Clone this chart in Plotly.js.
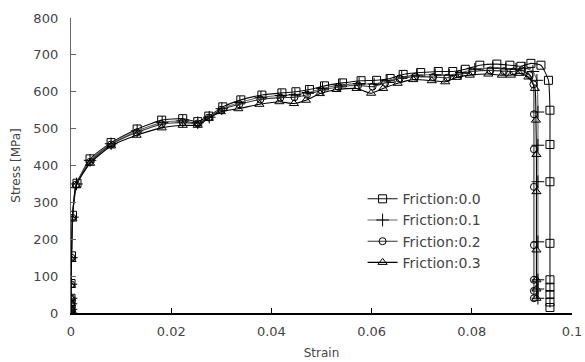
<!DOCTYPE html>
<html>
<head>
<meta charset="utf-8">
<script src="https://cdn.plot.ly/plotly-3.0.1.min.js"></script>
<style>html,body{margin:0;padding:0;background:#fff;}#chart{width:585px;height:362px;}</style>
</head>
<body>
<div id="chart"></div>
<script>
// Friction 0.0 (squares)
var strain0 = [0, 0, 0, 0, 0, 0.0001, 0.0003, 0.0012, 0.0038, 0.0080, 0.0132, 0.0181, 0.0223, 0.0253, 0.0275, 0.0303, 0.0339, 0.0381, 0.0421, 0.0449, 0.0476, 0.0506, 0.0542, 0.0579, 0.0610, 0.0637, 0.0663, 0.0698, 0.0733, 0.0762, 0.0787, 0.0816, 0.0850, 0.0876, 0.0898, 0.0918, 0.0938, 0.0953, 0.0956, 0.0956, 0.0956, 0.0956, 0.0956, 0.0956, 0.0956, 0.0956, 0.0956];
var stress0 = [0, 10, 25, 40, 80, 155, 265, 352, 418, 462, 499, 523, 527, 519, 534, 559, 578, 591, 597, 600, 606, 616, 624, 630, 631, 636, 647, 652, 655, 655, 661, 672, 675, 672, 669, 677, 672, 631, 550, 457, 356, 189, 90, 70, 50, 30, 15];
// Friction 0.1 (crosses)
var strain1 = [0, 0, 0, 0, 0, 0.0001, 0.0003, 0.0011, 0.0038, 0.0080, 0.0132, 0.0182, 0.0223, 0.0253, 0.0276, 0.0301, 0.0337, 0.0379, 0.0419, 0.0447, 0.0473, 0.0502, 0.0537, 0.0575, 0.0605, 0.0631, 0.0660, 0.0691, 0.0727, 0.0755, 0.0779, 0.0806, 0.0842, 0.0868, 0.0888, 0.0906, 0.0922, 0.0930, 0.0932, 0.0932, 0.0932, 0.0932, 0.0932, 0.0932, 0.0932];
var stress1 = [0, 10, 25, 40, 78, 150, 260, 350, 414, 459, 494, 517, 521, 516, 531, 554, 571, 585, 590, 592, 598, 609, 618, 622, 621, 630, 640, 645, 646, 645, 652, 661, 664, 662, 661, 664, 655, 631, 545, 455, 356, 193, 90, 65, 40];
// Friction 0.2 (circles)
var strain2 = [0, 0, 0, 0, 0, 0.0001, 0.0003, 0.0010, 0.0038, 0.0080, 0.0131, 0.0181, 0.0223, 0.0253, 0.0275, 0.0300, 0.0336, 0.0378, 0.0418, 0.0446, 0.0471, 0.0500, 0.0534, 0.0573, 0.0602, 0.0627, 0.0656, 0.0687, 0.0723, 0.0751, 0.0775, 0.0801, 0.0837, 0.0864, 0.0883, 0.0900, 0.0915, 0.0923, 0.0924, 0.0924, 0.0924, 0.0924, 0.0924, 0.0924, 0.0924];
var stress2 = [0, 10, 25, 40, 78, 150, 258, 348, 410, 457, 490, 512, 517, 514, 530, 551, 566, 579, 584, 585, 592, 604, 613, 617, 614, 624, 636, 641, 640, 638, 647, 655, 658, 656, 655, 658, 645, 620, 539, 444, 342, 184, 90, 60, 40];
// Friction 0.3 (triangles)
var strain3 = [0, 0, 0, 0, 0, 0.0001, 0.0003, 0.0010, 0.0038, 0.0080, 0.0131, 0.0181, 0.0223, 0.0253, 0.0275, 0.0299, 0.0334, 0.0376, 0.0416, 0.0445, 0.0469, 0.0497, 0.0530, 0.0570, 0.0599, 0.0623, 0.0652, 0.0683, 0.0720, 0.0747, 0.0770, 0.0796, 0.0833, 0.0860, 0.0878, 0.0895, 0.0913, 0.0926, 0.0928, 0.0929, 0.0929, 0.0929, 0.0929, 0.0929, 0.0929];
var stress3 = [0, 10, 25, 40, 75, 145, 255, 345, 406, 453, 482, 502, 509, 509, 528, 546, 554, 566, 573, 568, 577, 595, 606, 609, 596, 609, 623, 633, 630, 627, 639, 645, 648, 645, 645, 650, 640, 609, 523, 430, 329, 171, 90, 65, 40];

var seriesNames = ['Friction:0.0', 'Friction:0.1', 'Friction:0.2', 'Friction:0.3'];
var xTickVals = [0, 0.02, 0.04, 0.06, 0.08, 0.1];
var xTickText = ['0', '0.02', '0.04', '0.06', '0.08', '0.1'];
var yTickVals = [0, 100, 200, 300, 400, 500, 600, 700, 800];

var xs = [strain0, strain1, strain2, strain3];
var ys = [stress0, stress1, stress2, stress3];
var symbols = ['square-open', 'cross-thin-open', 'circle-open', 'triangle-up-open'];
var lineColors = ['#111111', '#666666', '#333333', '#000000'];
var sizes = [8, 9, 7, 8];

var traces = [];
for (var i = 0; i < 4; i++) {
  traces.push({
    x: xs[i], y: ys[i], name: seriesNames[i],
    type: 'scatter', mode: 'lines+markers',
    line: {color: lineColors[i], width: 1.1, shape: 'spline', smoothing: 0.5},
    marker: {symbol: symbols[i], size: sizes[i], color: '#000', line: {color: '#000', width: 1}}
  });
}

var layout = {
  width: 585, height: 362,
  margin: {l: 71, r: 13, t: 18, b: 49},
  paper_bgcolor: '#fff', plot_bgcolor: '#fff',
  font: {family: 'DejaVu Sans, sans-serif', color: '#444', size: 13},
  showlegend: true,
  legend: {x: 0.582, y: 0.44, xanchor: 'left', yanchor: 'top', bgcolor: 'rgba(0,0,0,0)',
           font: {family: 'DejaVu Sans, sans-serif', size: 14, color: '#444'}, tracegroupgap: 0},
  xaxis: {
    range: [0, 0.1], tickvals: xTickVals, ticktext: xTickText,
    showgrid: false, zeroline: false, showline: true, linecolor: '#000', linewidth: 1.5,
    ticks: 'inside', ticklen: 5, tickcolor: '#000', ticklabelstandoff: 6,
    tickfont: {size: 13, color: '#444'},
    title: {text: 'Strain', font: {size: 12, color: '#444'}, standoff: 10}
  },
  yaxis: {
    range: [0, 800], tickvals: yTickVals,
    showgrid: false, zeroline: false, showline: true, linecolor: '#666', linewidth: 1.2,
    ticks: 'inside', ticklen: 5, tickcolor: '#666', ticklabelstandoff: 9,
    tickfont: {size: 13, color: '#444'},
    title: {text: 'Stress [MPa]', font: {size: 12, color: '#444'}, standoff: 10}
  }
};

Plotly.newPlot('chart', traces, layout, {displayModeBar: false, staticPlot: true});
</script>
</body>
</html>
